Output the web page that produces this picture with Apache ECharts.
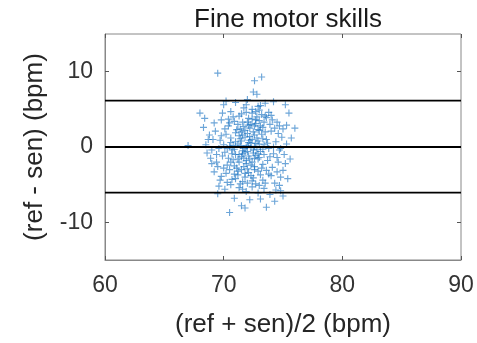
<!DOCTYPE html>
<html><head><meta charset="utf-8">
<script src="https://cdn.jsdelivr.net/npm/echarts@6/dist/echarts.min.js"></script>
<style>html,body{margin:0;padding:0;background:#fff}#c{width:477px;height:343px}</style>
</head><body><div id="c"></div>
<script>
const chartTitle = 'Fine motor skills';
const xName = '(ref + sen)/2 (bpm)';
const yName = '(ref - sen) (bpm)';
const xTicks = [60, 70, 80, 90];
const yTicks = [-10, 0, 10];
const xRange = [60, 90];
const yRange = [-15, 15];
const meanDiff = [0.0];
const limitsOfAgreement = [6.15, -6.05];
const points = [
  [69.5,9.8],[72.6,8.8],[73.2,9.3],[72.8,7.0],[72.5,7.3],[68.0,4.5],[68.4,3.8],[76.0,2.5],[70.5,-8.7],[71.5,-7.8],
  [71.8,-8.1],[73.6,-8.0],[74.3,-7.2],[75.0,-6.5],[67.0,0.2],[75.6,-1.6],[75.5,4.5],[75.2,5.6],[74.8,-5.8],[69.5,-6.2],
  [70.0,5.6],[71.0,5.9],[72.0,6.3],[73.5,5.8],[74.2,6.0],[69.2,3.2],[69.8,3.6],[70.4,2.8],[70.9,3.4],[71.3,4.1],
  [71.7,2.7],[72.1,3.8],[72.4,4.5],[72.7,3.1],[73.0,4.9],[73.3,2.6],[73.6,3.9],[74.0,4.2],[74.5,3.3],[75.0,2.4],
  [68.8,1.6],[69.3,2.1],[69.7,0.9],[70.2,1.7],[70.6,0.6],[71.0,1.9],[71.4,1.1],[71.8,2.2],[72.2,1.4],[72.5,2.0],
  [72.9,0.8],[73.2,1.7],[73.6,1.0],[74.0,2.1],[74.4,0.7],[74.9,1.3],[75.3,0.4],[68.5,0.3],[69.0,-0.4],[69.6,-0.2],
  [70.1,-0.7],[70.5,0.1],[70.9,-0.3],[71.2,0.4],[71.6,-0.5],[72.0,0.2],[72.3,-0.1],[72.7,0.5],[73.1,-0.6],[73.4,0.3],
  [73.8,-0.2],[74.2,-0.9],[74.7,-0.4],[75.1,-1.0],[68.9,-1.5],[69.4,-2.0],[69.9,-1.2],[70.3,-2.4],[70.8,-1.7],[71.1,-2.8],
  [71.5,-1.3],[71.9,-2.2],[72.2,-1.6],[72.6,-2.6],[73.0,-1.4],[73.3,-2.3],[73.7,-1.8],[74.1,-2.7],[74.6,-2.0],[75.0,-3.1],
  [69.2,-3.3],[69.8,-3.9],[70.2,-3.5],[70.7,-4.3],[71.2,-3.7],[71.6,-4.6],[72.1,-3.4],[72.5,-4.1],[72.9,-3.2],[73.3,-4.4],
  [73.8,-3.6],[74.3,-4.8],[74.8,-4.0],[69.6,-5.2],[70.1,-5.6],[70.6,-5.0],[71.3,-5.4],[71.9,-5.9],[72.4,-5.3],[72.9,-6.1],
  [73.4,-5.5],[73.9,-6.3],[74.4,-5.7],[70.9,-6.8],[72.2,-7.0],[73.1,-6.9],[71.7,5.2],[72.9,5.4],[70.6,4.7],[73.8,4.6],
  [71.5,0.8],[71.8,1.3],[72.1,0.6],[72.4,1.0],[72.0,-0.6],[71.7,-0.2],[72.5,-0.8],[71.3,-1.0],[72.8,-0.3],[71.9,0.0],
  [71.4,2.4],[72.6,2.8],[72.9,2.3],[71.6,3.3],[72.3,3.0],[73.0,3.5],[72.8,4.0],[71.9,4.6],[73.2,4.3],[72.4,5.0],
  [71.0,-1.0],[70.7,-0.9],[71.3,-2.0],[71.7,-1.5],[72.4,-2.0],[72.0,-2.9],[71.5,-3.0],[70.9,-2.5],[72.7,-1.1],[73.2,-2.8],
  [70.4,3.7],[69.9,4.5],[70.8,4.0],[71.2,3.0],[73.9,3.0],[74.3,2.5],[73.5,2.0],[74.6,1.8],[75.3,2.9],[75.7,1.2],
  [68.6,-0.8],[68.3,2.6],[69.1,1.0],[69.4,-1.0],[70.0,0.3],[70.4,-1.5],[70.0,-2.8],[69.7,-4.4],[70.5,-3.0],[71.0,-4.2],
  [73.6,-3.1],[74.0,-3.8],[74.5,-3.3],[75.2,-2.2],[75.4,-4.2],[74.7,-5.1],[73.5,-4.8],[72.7,-4.9],[72.3,-3.8],[71.8,-4.0],
  [72.2,2.5],[71.1,2.3],[70.6,1.2],[73.7,0.5],[74.2,0.0],[74.8,-0.2],[73.3,1.1],[72.6,1.6],[73.0,2.2],[72.0,1.8],
  [71.6,-0.9],[72.1,-1.2],[72.9,-0.9],[73.4,-1.0],[72.3,0.5],[72.6,0.1],[71.4,0.2],[71.0,0.7],[70.7,-0.4],[73.0,0.4],
  [71.2,-3.2],[71.8,-3.5],[72.6,-3.0],[73.1,-3.7],[72.0,-4.8],[71.4,-4.9],[70.3,-4.7],[69.5,-2.6],[69.0,-2.2],[68.7,1.0],
  [70.1,2.4],[70.5,3.2],[71.5,4.4],[72.7,4.7],[73.4,3.3],[74.1,3.6],[74.7,2.8],[73.1,5.5],[71.9,5.6],[70.2,6.1],
  [71.6,1.6],[72.2,0.9],[72.8,1.2],[71.3,1.5],[72.5,-0.4],[71.8,-0.7],[72.9,-1.6],[71.2,-1.6],[72.3,-2.4],[71.7,-2.6],
  [70.8,0.2],[73.3,-0.3],[72.1,2.9],[71.5,2.0],[72.7,3.6],[73.1,2.8],[70.9,-3.6],[72.4,-4.5],[73.0,-5.1],[71.6,-5.6],
  [72.0,3.3],[72.4,3.7],[73.5,4.1],[70.3,-0.2],[69.8,1.5],[74.5,-1.4],[73.9,-1.3],[70.6,-2.0],[71.9,-1.8],[72.6,-1.5]
];

const FONT = '"Liberation Sans", Arial, sans-serif';
const TXT = '#262626';
const plusPath = 'path://M-0.16,-1H0.16V-0.16H1V0.16H0.16V1H-0.16V0.16H-1V-0.16H-0.16Z';

const chart = echarts.init(document.getElementById('c'), null, {renderer: 'canvas'});
const hiddenAxis = {
  axisLabel: {show: false}, axisLine: {show: false, onZero: false}, splitLine: {show: false}
};
const refLines = meanDiff.concat(limitsOfAgreement).map(v => ({
  type: 'line',
  xAxisIndex: 0, yAxisIndex: 0,
  data: [[xRange[0], v], [xRange[1], v]],
  symbol: 'none', silent: true, z: 3,
  lineStyle: {color: '#000', width: 1.8, type: 'solid'}
}));
chart.setOption({
  backgroundColor: '#fff',
  animation: false,
  title: {
    text: chartTitle, left: 283, top: 2, textAlign: 'center',
    textStyle: {fontFamily: FONT, fontSize: 26, fontWeight: 'normal', color: '#1a1a1a'}
  },
  grid: {left: 105, right: 16, top: 34, bottom: 83, show: true, borderColor: '#888', borderWidth: 1, containLabel: false},
  xAxis: [{
    type: 'value', min: xRange[0], max: xRange[1], interval: 10,
    name: xName, nameLocation: 'middle', nameGap: 52,
    nameTextStyle: {fontFamily: FONT, fontSize: 26, color: TXT},
    axisLine: {show: true, onZero: false, lineStyle: {color: '#888'}},
    axisTick: {show: true, inside: true, length: 4, lineStyle: {color: '#555'}, customValues: xTicks},
    axisLabel: {fontFamily: FONT, fontSize: 23, color: '#333', margin: 14, customValues: xTicks},
    splitLine: {show: false}
  }, Object.assign({
    type: 'value', position: 'top', min: xRange[0], max: xRange[1], interval: 10,
    axisTick: {show: true, inside: true, length: 4, lineStyle: {color: '#555'}, customValues: xTicks}
  }, hiddenAxis)],
  yAxis: [{
    type: 'value', min: yRange[0], max: yRange[1],
    name: yName, nameLocation: 'middle', nameGap: 57, nameRotate: 90,
    nameTextStyle: {fontFamily: FONT, fontSize: 26, color: TXT},
    axisLine: {show: true, onZero: false, lineStyle: {color: '#888'}},
    axisTick: {show: true, inside: true, length: 4, lineStyle: {color: '#555'}, customValues: yTicks},
    axisLabel: {fontFamily: FONT, fontSize: 23, color: '#333', margin: 12, customValues: yTicks},
    splitLine: {show: false}
  }, Object.assign({
    type: 'value', position: 'right', min: yRange[0], max: yRange[1],
    axisTick: {show: true, inside: true, length: 4, lineStyle: {color: '#555'}, customValues: yTicks}
  }, hiddenAxis)],
  series: [{
    type: 'scatter',
    xAxisIndex: 0, yAxisIndex: 0,
    data: points,
    symbol: plusPath,
    symbolSize: 7,
    itemStyle: {color: 'rgba(10,105,190,0.75)'},
    silent: true, z: 2
  }].concat(refLines)
});
</script>
</body></html>
